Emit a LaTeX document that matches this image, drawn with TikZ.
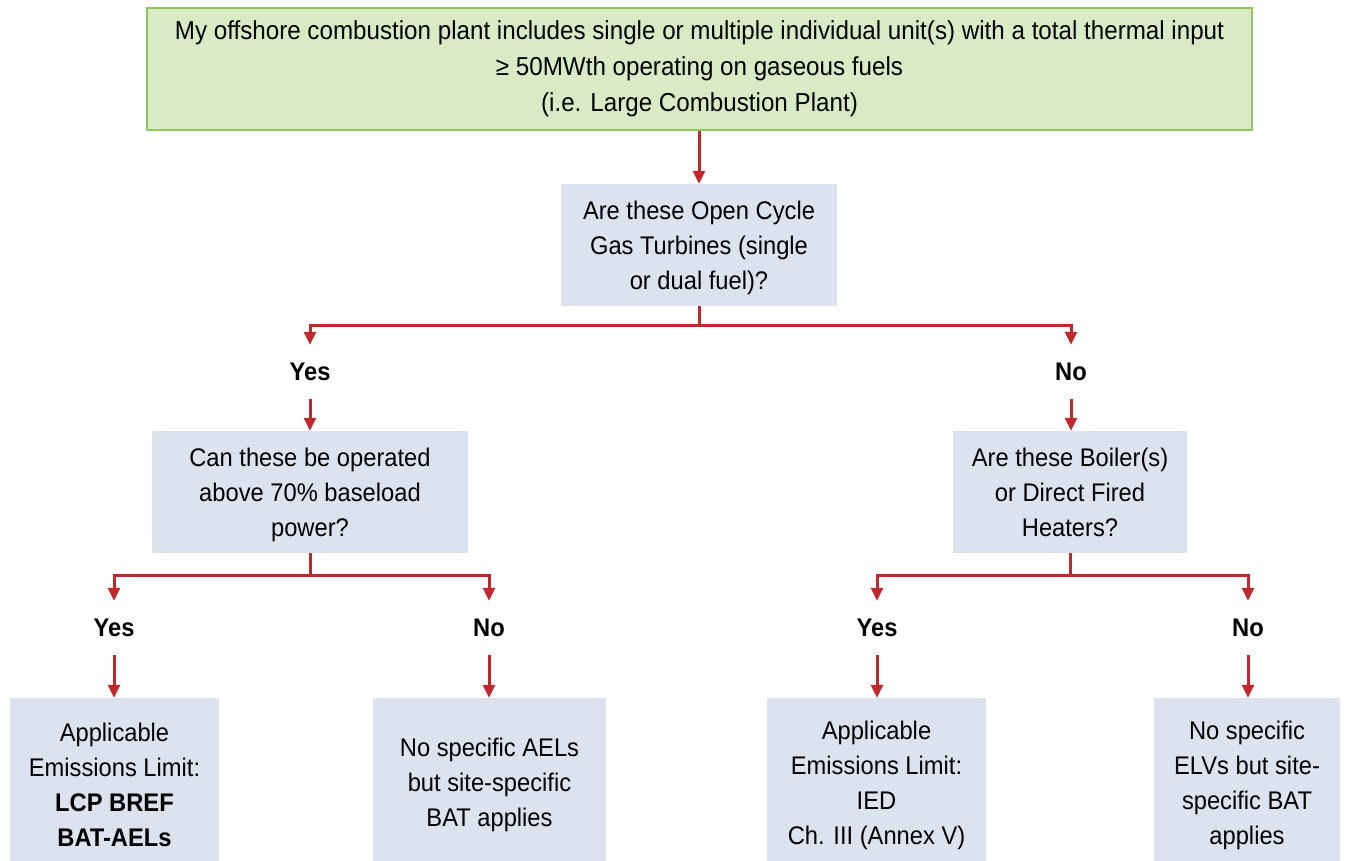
\documentclass[tikz,border=0pt]{standalone}
\usepackage{fontspec}
\setmainfont{Liberation Sans}[FakeStretch=0.93]
\usetikzlibrary{arrows.meta}
\definecolor{boxfill}{HTML}{DCE3EF}
\definecolor{greenfill}{HTML}{D8EBC5}
\definecolor{greenline}{HTML}{92C460}
\definecolor{arrowred}{HTML}{C0282E}
\begin{document}
\begin{tikzpicture}[x=1pt,y=-1pt,
  qbox/.style={fill=boxfill, draw=none, align=center, inner sep=0pt,
    font=\fontsize{25.5}{35}\selectfont},
  topbox/.style={fill=greenfill, draw=greenline, line width=2.6pt, align=center, inner sep=0pt,
    font=\fontsize{26}{36}\selectfont},
  lbl/.style={font=\fontsize{25.5}{30}\selectfont\bfseries, inner sep=0pt, minimum height=54pt},
  conn/.style={draw=arrowred, line width=3pt},
  arr/.style={conn, -{Triangle[width=12pt,length=13pt]}}]
\useasboundingbox (0,0) rectangle (1346,861);
\fill[white] (0,0) rectangle (1346,861);
\begin{scope}
\clip (0,0) rectangle (1346,861);
\node[topbox, minimum width=1105pt, minimum height=122pt] (top) at (699.5,69)
  {My offshore combustion plant includes single or multiple individual unit(s) with a total thermal input\\
   ≥ 50MWth operating on gaseous fuels\\
   (i.e. Large Combustion Plant)};
\node[qbox, minimum width=276pt, minimum height=122pt] (q1) at (699,245)
  {\strut Are these Open Cycle\\ Gas Turbines (single\\ or dual fuel)?};
\node[qbox, minimum width=316pt, minimum height=122pt] (q2) at (310,492)
  {\strut Can these be operated\\ above 70\% baseload\\ power?};
\node[qbox, minimum width=234pt, minimum height=122pt] (q3) at (1070,492)
  {Are these Boiler(s)\\ or Direct Fired\\ Heaters?};
\node[qbox, minimum width=209pt, minimum height=174pt] (r1) at (114.5,785)
  {Applicable\\ Emissions Limit:\\ \textbf{LCP BREF}\\ \textbf{BAT-AELs}};
\node[qbox, minimum width=233pt, minimum height=174pt] (r2) at (489.5,785)
  {No specific AELs\\ but site-specific\\ BAT applies};
\node[qbox, minimum width=219pt, minimum height=174pt] (r3) at (876.5,785)
  {Applicable\\ Emissions Limit:\\ IED\\ Ch. III (Annex V)};
\node[qbox, minimum width=186pt, minimum height=174pt] (r4) at (1247,785)
  {No specific\\ ELVs but site-\\ specific BAT\\ applies};
\node[lbl] (y1) at (310,372) {Yes};
\node[lbl] (n1) at (1071,372) {No};
\node[lbl] (y2) at (114,628) {Yes};
\node[lbl] (n2) at (489,628) {No};
\node[lbl] (y3) at (877,628) {Yes};
\node[lbl] (n3) at (1248,628) {No};
% connectors
\draw[arr] (top.south -| q1.north) -- (q1.north);
\draw[conn] (q1.south) -- ++(0,19) coordinate (j1);
\draw[arr] (j1) -| (y1.north);
\draw[arr] (j1) -| (n1.north);
\draw[arr] (y1.south) -- (q2.north);
\draw[arr] (n1.south) -- (n1.south |- q3.north);
\draw[conn] (q2.south) -- ++(0,22) coordinate (j2);
\draw[arr] (j2) -| (y2.north);
\draw[arr] (j2) -| (n2.north);
\draw[conn] (q3.south) -- ++(0,22) coordinate (j3);
\draw[arr] (j3) -| (y3.north);
\draw[arr] (j3) -| (n3.north);
\draw[arr] (y2.south) -- (y2.south |- r1.north);
\draw[arr] (n2.south) -- (n2.south |- r2.north);
\draw[arr] (y3.south) -- (y3.south |- r3.north);
\draw[arr] (n3.south) -- (n3.south |- r4.north);
\end{scope}
\end{tikzpicture}
\end{document}
